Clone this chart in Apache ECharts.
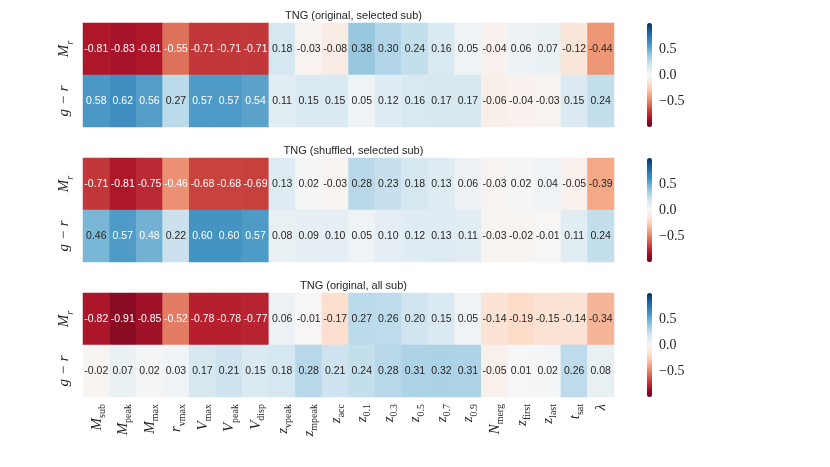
<!DOCTYPE html>
<html><head><meta charset="utf-8">
<script src="https://cdn.jsdelivr.net/npm/echarts@6/dist/echarts.min.js"></script>
<style>html,body{margin:0;padding:0;background:#fff}#c{width:830px;height:467px}</style>
</head><body><div id="c"></div>
<script>
const xCats = ['M_sub','M_peak','M_max','r_vmax','V_max','V_peak','V_disp','z_vpeak','z_mpeak','z_acc','z_0.1','z_0.3','z_0.5','z_0.7','z_0.9','N_merg','z_first','z_last','t_sat','λ'];
const yCats = ['M_r','g − r'];
const titles = ['TNG (original, selected sub)','TNG (shuffled, selected sub)','TNG (original, all sub)'];
const p1Mr = [-0.81,-0.83,-0.81,-0.55,-0.71,-0.71,-0.71,0.18,-0.03,-0.08,0.38,0.30,0.24,0.16,0.05,-0.04,0.06,0.07,-0.12,-0.44];
const p1gr = [0.58,0.62,0.56,0.27,0.57,0.57,0.54,0.11,0.15,0.15,0.05,0.12,0.16,0.17,0.17,-0.06,-0.04,-0.03,0.15,0.24];
const p2Mr = [-0.71,-0.81,-0.75,-0.46,-0.68,-0.68,-0.69,0.13,0.02,-0.03,0.28,0.23,0.18,0.13,0.06,-0.03,0.02,0.04,-0.05,-0.39];
const p2gr = [0.46,0.57,0.48,0.22,0.60,0.60,0.57,0.08,0.09,0.10,0.05,0.10,0.12,0.13,0.11,-0.03,-0.02,-0.01,0.11,0.24];
const p3Mr = [-0.82,-0.91,-0.85,-0.52,-0.78,-0.78,-0.77,0.06,-0.01,-0.17,0.27,0.26,0.20,0.15,0.05,-0.14,-0.19,-0.15,-0.14,-0.34];
const p3gr = [-0.02,0.07,0.02,0.03,0.17,0.21,0.15,0.18,0.28,0.21,0.24,0.28,0.31,0.32,0.31,-0.05,0.01,0.02,0.26,0.08];
const cbTicks = [-0.5, 0, 0.5];
const panels = [[p1Mr,p1gr],[p2Mr,p2gr],[p3Mr,p3gr]];

const RdBu = ['#67001f','#b2182b','#d6604d','#f4a582','#fddbc7','#f7f7f7','#d1e5f0','#92c5de','#4393c3','#2166ac','#053061'];
const tops = [23,158,293];
const H = 104, L = 83, W = 531;
const serif = 'Liberation Serif, DejaVu Serif, serif';
const sans = 'Liberation Sans, Arial, sans-serif';
const dark = '#262626';

function mathLabel(v){
  const i = v.indexOf('_');
  if (i < 0) return '{m|' + v + '}';
  return '{m|' + v.slice(0,i) + '}{s|' + v.slice(i+1) + '}';
}
const richX = {
  m:{fontFamily:serif,fontStyle:'italic',fontSize:15,color:dark,verticalAlign:'bottom',lineHeight:16},
  s:{fontFamily:serif,fontSize:10,color:dark,verticalAlign:'bottom',lineHeight:12,padding:[0,0,-3,0]}
};
const richY = {
  m:{fontFamily:serif,fontStyle:'italic',fontSize:15,color:dark,verticalAlign:'bottom',lineHeight:16},
  s:{fontFamily:serif,fontStyle:'italic',fontSize:10,color:dark,verticalAlign:'bottom',lineHeight:12,padding:[0,0,-3,0]}
};

const grid=[], xAxis=[], yAxis=[], series=[], visualMap=[], title=[];
panels.forEach((pv, k) => {
  grid.push({left:L, top:tops[k], width:W, height:H});
  grid.push({left:647, top:tops[k], width:5, height:H});
  title.push({text:titles[k], left:L+W/2, top:tops[k]-18, textAlign:'center',
    textStyle:{fontFamily:sans,fontSize:11,fontWeight:'normal',color:dark}});
  xAxis.push({type:'category', gridIndex:2*k, data:xCats, axisLine:{show:false}, axisTick:{show:false},
    splitLine:{show:false},
    axisLabel:{show:k===2, rotate:90, margin:7, formatter:mathLabel, rich:richX, interval:0}});
  yAxis.push({type:'category', gridIndex:2*k, data:yCats, inverse:true, axisLine:{show:false}, axisTick:{show:false},
    axisLabel:{rotate:90, margin:19, interval:0, hideOverlap:false, formatter:mathLabel, rich:richY, align:'center', verticalAlign:'middle'}});
  xAxis.push({type:'value', gridIndex:2*k+1, show:false});
  yAxis.push({type:'value', gridIndex:2*k+1, min:-1, max:1, position:'right',
    axisLine:{show:false}, splitLine:{show:false},
    axisTick:{show:true, length:3, lineStyle:{color:'#444', width:1}, customValues:cbTicks},
    axisLabel:{margin:7, fontFamily:serif, fontSize:14, color:dark, customValues:cbTicks,
      formatter:v => (v < 0 ? '−' + Math.abs(v).toFixed(1) : v.toFixed(1))}});
  const data = [];
  pv.forEach((row, r) => row.forEach((v, c) => data.push([c, r, v])));
  series.push({type:'heatmap', xAxisIndex:2*k, yAxisIndex:2*k, data:data,
    itemStyle:{borderWidth:0},
    emphasis:{disabled:true},
    label:{show:true, formatter:p => {
      const v = p.value[2]; const s = v.toFixed(2);
      return (v >= 0.47 || v <= -0.45) ? '{w|' + s + '}' : '{d|' + s + '}';
    }, rich:{w:{color:'#fff',fontFamily:sans,fontSize:10.5}, d:{color:dark,fontFamily:sans,fontSize:10.5}}}});
  visualMap.push({type:'continuous', min:-1, max:1, seriesIndex:k, orient:'vertical',
    left:647, top:tops[k], itemWidth:5, itemHeight:H, padding:0, calculable:false, hoverLink:false,
    text:null, showLabel:false, inRange:{color:RdBu}});
});

const chart = echarts.init(document.getElementById('c'), null, {renderer:'canvas'});
chart.setOption({animation:false, backgroundColor:'#fff', title, grid, xAxis, yAxis, series, visualMap});
</script></body></html>
